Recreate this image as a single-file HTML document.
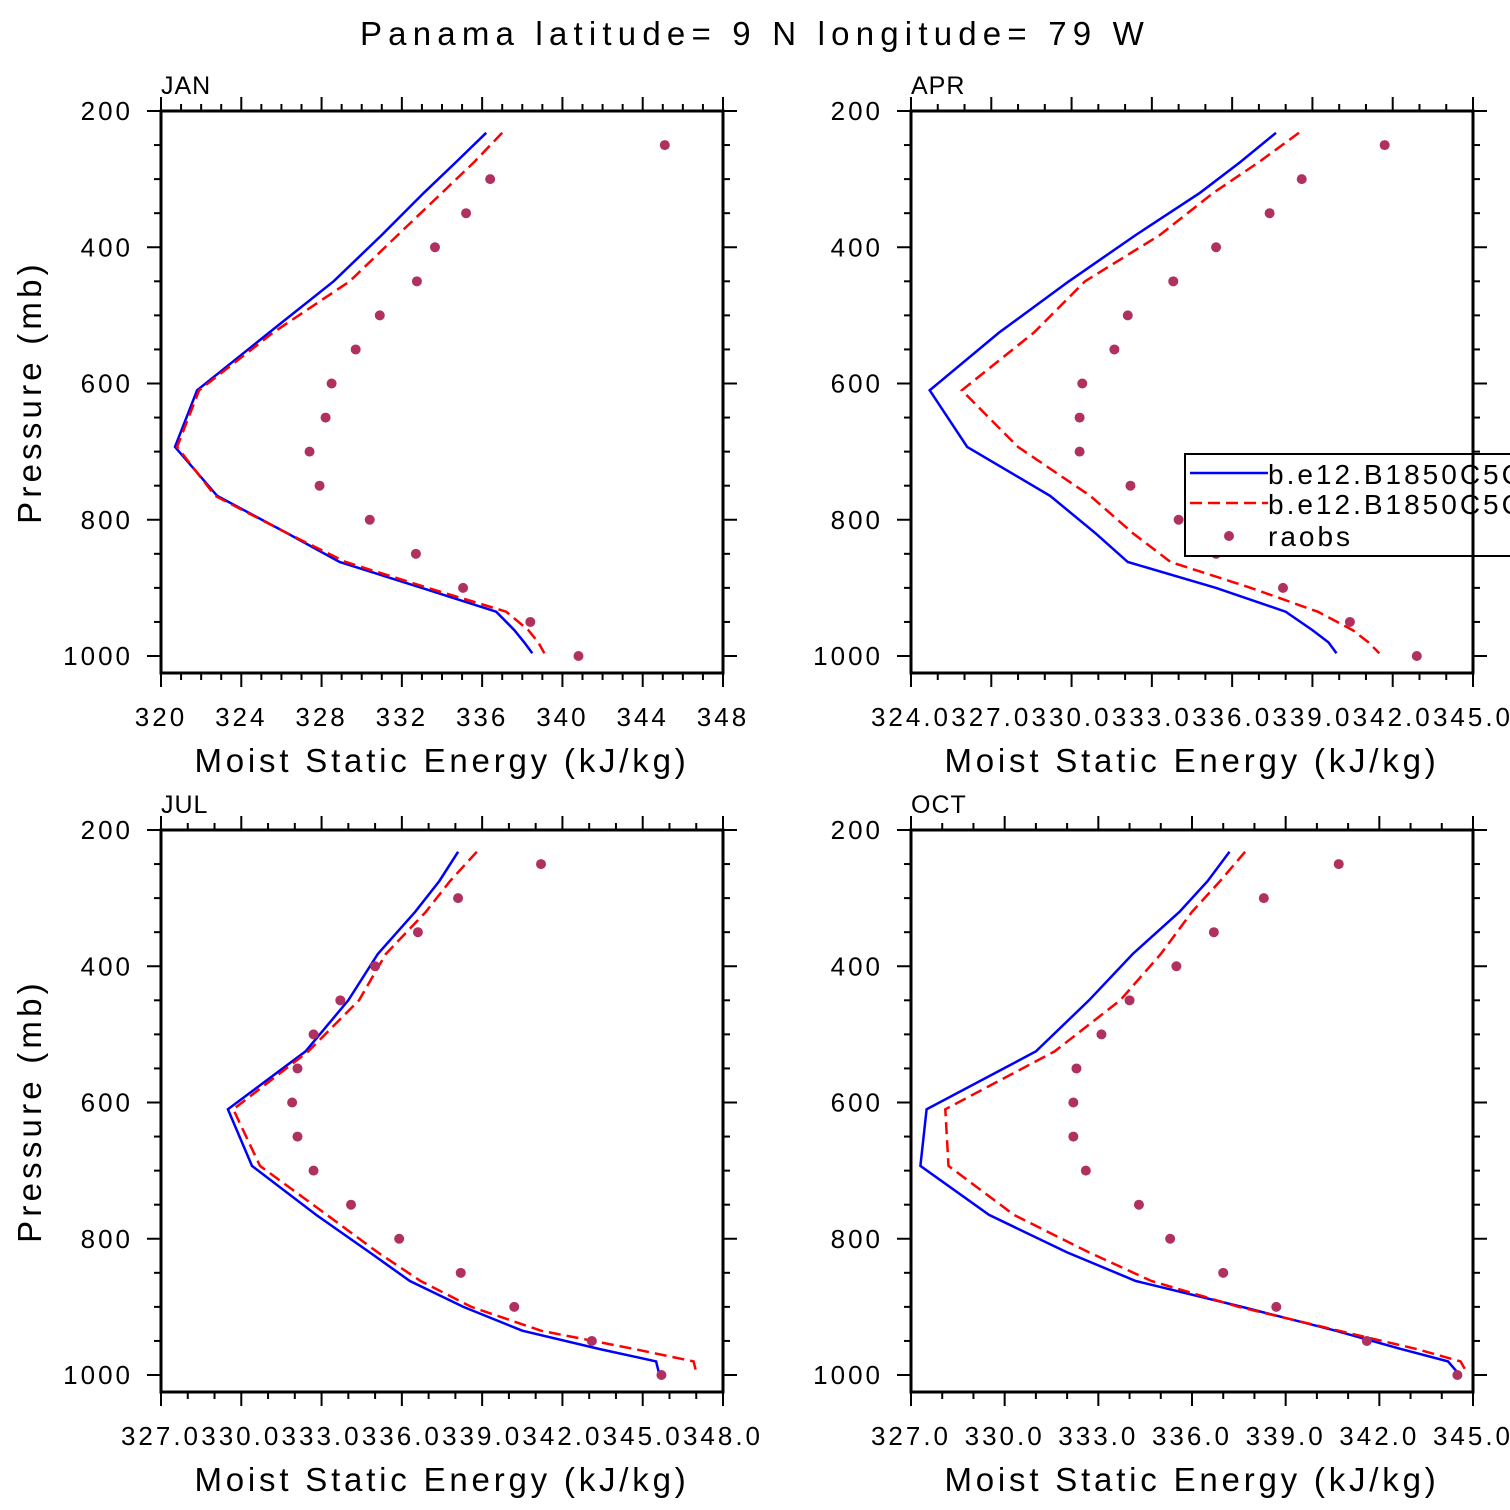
<!DOCTYPE html>
<html><head><meta charset="utf-8"><style>
html,body{margin:0;padding:0;background:#fff;}
svg{display:block;font-family:"Liberation Sans",sans-serif;}
</style></head><body>
<svg id="c" width="1510" height="1510" viewBox="0 0 1510 1510">
<text x="755" y="45" font-size="33" text-anchor="middle" letter-spacing="6.2">Panama  latitude= 9 N longitude= 79 W</text>
</svg>
<script>
const presModel=[232,275,320,382,450,525,610,693,765,820,862,900,935,962,980,996];
const raobPres=[250,300,350,400,450,500,550,600,650,700,750,800,850,900,950,1000];
const janBlue=[336.2,334.7,333.1,331.0,328.6,325.4,321.8,320.7,322.8,326.3,328.9,333.0,336.7,337.6,338.1,338.5];
const janRed=[337.0,335.6,334.0,331.8,329.4,325.6,321.9,320.8,322.7,326.3,329.2,333.3,337.2,338.3,338.8,339.1];
const janRaob=[345.1,336.4,335.2,333.65,332.75,330.9,329.7,328.5,328.2,327.4,327.9,330.4,332.7,335.05,338.4,340.8];
const aprBlue=[337.64,336.3,334.8,332.4,329.9,327.3,324.7,326.1,329.2,330.9,332.1,335.4,338.0,339.0,339.6,339.9];
const aprRed=[338.5,337.0,335.3,333.3,330.5,328.6,325.9,328.0,330.7,332.3,333.7,336.7,339.2,340.5,341.1,341.5];
const aprRaob=[341.7,338.6,337.4,335.4,333.8,332.1,331.6,330.4,330.3,330.3,332.2,334.0,335.4,337.9,340.4,342.9];
const julBlue=[338.1,337.4,336.5,335.1,334.0,332.4,329.5,330.4,332.8,334.8,336.3,338.3,340.5,343.4,345.5,345.6];
const julRed=[338.8,337.8,336.9,335.4,334.4,332.5,329.7,330.7,333.2,335.1,336.7,338.6,341.2,344.7,346.9,347.0];
const julRaob=[341.2,338.1,336.6,335.0,333.7,332.7,332.1,331.9,332.1,332.7,334.1,335.9,338.2,340.2,343.1,345.7];
const octBlue=[337.2,336.5,335.6,334.1,332.7,331.0,327.5,327.3,329.5,332.0,334.2,337.6,340.6,342.7,344.2,344.5];
const octRed=[337.7,336.9,336.0,335.0,333.7,331.6,328.1,328.2,330.3,332.7,334.7,337.5,340.7,343.2,344.6,344.8];
const octRaob=[340.7,338.3,336.7,335.5,334.0,333.1,332.3,332.2,332.2,332.6,334.3,335.3,337.0,338.7,341.6,344.5];
const yTicks=[200,400,600,800,1000];
const janX=[320,324,328,332,336,340,344,348];
const aprX=[324,327,330,333,336,339,342,345];
const julX=[327,330,333,336,339,342,345,348];
const octX=[327,330,333,336,339,342,345];
const NS="http://www.w3.org/2000/svg";
const svg=document.getElementById('c');
function mk(tag,attrs,parent){const e=document.createElementNS(NS,tag);for(const k in attrs)e.setAttribute(k,attrs[k]);(parent||svg).appendChild(e);return e;}
function panel(name,L,T,xmin,xmax,xt,fmt,minorStep,blue,red,raob,ylab){
  const W=562,H=562;
  const g=mk('g',{});
  
  
  const xs=v=>L+(v-xmin)/(xmax-xmin)*W;
  const ys=p=>T+(p-200)*0.68125;
  const cp=mk('clipPath',{id:'cp'+name},g);
  mk('rect',{x:L,y:T,width:W,height:H},cp);
  for(let v=xmin;v<=xmax+1e-9;v+=minorStep){const x=xs(v);
    const big=xt.some(t=>Math.abs(t-v)<1e-6);const len=big?14:7;
    mk('line',{x1:x,y1:T,x2:x,y2:T-len,stroke:'#000','stroke-width':2},g);
    mk('line',{x1:x,y1:T+H,x2:x,y2:T+H+len,stroke:'#000','stroke-width':2},g);}
  for(let p=200;p<=1000;p+=50){const y=ys(p);const len=(p%200===0)?14:7;
    mk('line',{x1:L,y1:y,x2:L-len,y2:y,stroke:'#000','stroke-width':2},g);
    mk('line',{x1:L+W,y1:y,x2:L+W+len,y2:y,stroke:'#000','stroke-width':2},g);}
  xt.forEach(v=>{const t=mk('text',{x:xs(v),y:T+H+53,'font-size':26,'text-anchor':'middle','letter-spacing':3},g);t.textContent=fmt(v);
    
    });
  yTicks.forEach(p=>{const t=mk('text',{x:L-28,y:ys(p)+9,'font-size':26,'text-anchor':'end','letter-spacing':3},g);t.textContent=p;
    
    });
  const mt=mk('text',{x:L,y:T-17,'font-size':25,'letter-spacing':1},g);mt.textContent=name.toUpperCase();
  
  
  const xl=mk('text',{x:L+W/2,y:T+H+99,'font-size':33,'text-anchor':'middle','letter-spacing':3.8},g);xl.textContent='Moist Static Energy (kJ/kg)';
  
  
  if(ylab){const yl=mk('text',{x:0,y:0,'font-size':33,'text-anchor':'middle','letter-spacing':4.2,transform:`translate(${L-120},${T+H/2}) rotate(-90)`},g);yl.textContent='Pressure (mb)';
    
    }
  const pts=a=>a.map((v,i)=>xs(v).toFixed(1)+','+ys(presModel[i]).toFixed(1)).join(' ');
  const bl=mk('polyline',{points:pts(blue),fill:'none',stroke:'#0000ff','stroke-width':2.5,'clip-path':`url(#cp${name})`},g);
  
  
  const rl=mk('polyline',{points:pts(red),fill:'none',stroke:'#ff0000','stroke-width':2.5,'stroke-dasharray':'12,6','clip-path':`url(#cp${name})`},g);
  
  
  raob.forEach((v,i)=>{const c=mk('circle',{cx:xs(v),cy:ys(raobPres[i]),r:5,fill:'#b03060'},g);
    
    });
  return {g,L,T,W,H};
}
const f0=v=>String(v), f1=v=>v.toFixed(1);
panel('jan',161,111,320,348,janX,f0,1,janBlue,janRed,janRaob,true);
panel('apr',911,111,324,345,aprX,f1,1,aprBlue,aprRed,aprRaob,false);
panel('jul',161,830,327,348,julX,f1,1,julBlue,julRed,julRaob,true);
panel('oct',911,830,327,345,octX,f1,1,octBlue,octRed,octRaob,false);
const lg=mk('g',{});


mk('rect',{x:1185,y:454,width:340,height:102,fill:'#fff',stroke:'#000','stroke-width':2},lg);
mk('line',{x1:1190,y1:473,x2:1268,y2:473,stroke:'#0000ff','stroke-width':2.5},lg);
mk('line',{x1:1190,y1:503,x2:1268,y2:503,stroke:'#ff0000','stroke-width':2.5,'stroke-dasharray':'12,6'},lg);
mk('circle',{cx:1229,cy:536,r:5,fill:'#b03060'},lg);
[['b.e12.B1850C5CN',484],['b.e12.B1850C5CN',514],['raobs',546]].forEach(([s,y])=>{const t=mk('text',{x:1268,y:y,'font-size':28,'letter-spacing':3},lg);t.textContent=s;
  
  });
[[161,111],[911,111],[161,830],[911,830]].forEach(([L,T])=>{const r=mk('rect',{x:L,y:T,width:562,height:562,fill:'none',stroke:'#000','stroke-width':3});
  
  });
</script>
</body></html>
